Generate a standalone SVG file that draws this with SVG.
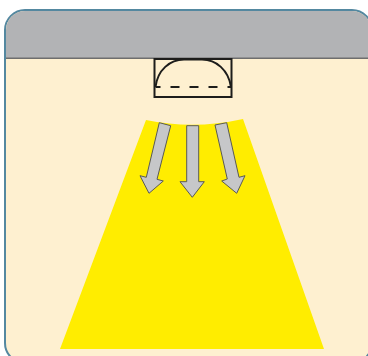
<svg xmlns="http://www.w3.org/2000/svg" width="368" height="356" viewBox="0 0 368 356">
<style>
.frame{fill:#fef0d0;stroke:#5488a0;stroke-width:2}
.arrow{fill:#c6c7c9;stroke:#5a5a55;stroke-width:1}
.lamp{fill:none;stroke:#1d1d1b;stroke-width:2}
</style>
<rect width="368" height="356" fill="#ffffff"/>
<g id="room">
<rect class="frame" x="5" y="10" width="367" height="353" rx="20" ry="20"/>
<path d="M6 58V30A19 19 0 0 1 25 11H352A19 19 0 0 1 371 30V58Z" fill="#b2b3b5"/>
<path d="M6 58.200H368" fill="none" stroke="#6e6e6e" stroke-width="1.500"/>
</g>
<g id="light-beam">
<path d="M146 120Q194 130 243 119L324 349H60Z" fill="#ffed00"/>
</g>
<g id="lamp">
<rect class="lamp" x="154.500" y="59" width="77" height="38"/>
<path class="lamp" d="M155.500 87C157.500 70 170 59.500 184 59.500H202C216 59.500 228.500 70 231 87"/>
<path class="lamp" d="M155.500 87H231" stroke-dasharray="9 10" stroke-dashoffset="4"/>
</g>
<g id="connectors">
<path class="arrow" d="M159.300 122.700L170.700 125.700L157 179.300L163.300 181L149 193.300L140 175.700L146.300 177.300Z"/>
<path class="arrow" d="M186.700 125.700H198.700V181.700H204.300L192.300 197.300L180 181.700H186.700Z"/>
<path class="arrow" d="M215 125L226.700 122.700L239 177.300L245 175.700L236.700 193.300L221.700 181L227.300 179Z"/>
</g>
</svg>
